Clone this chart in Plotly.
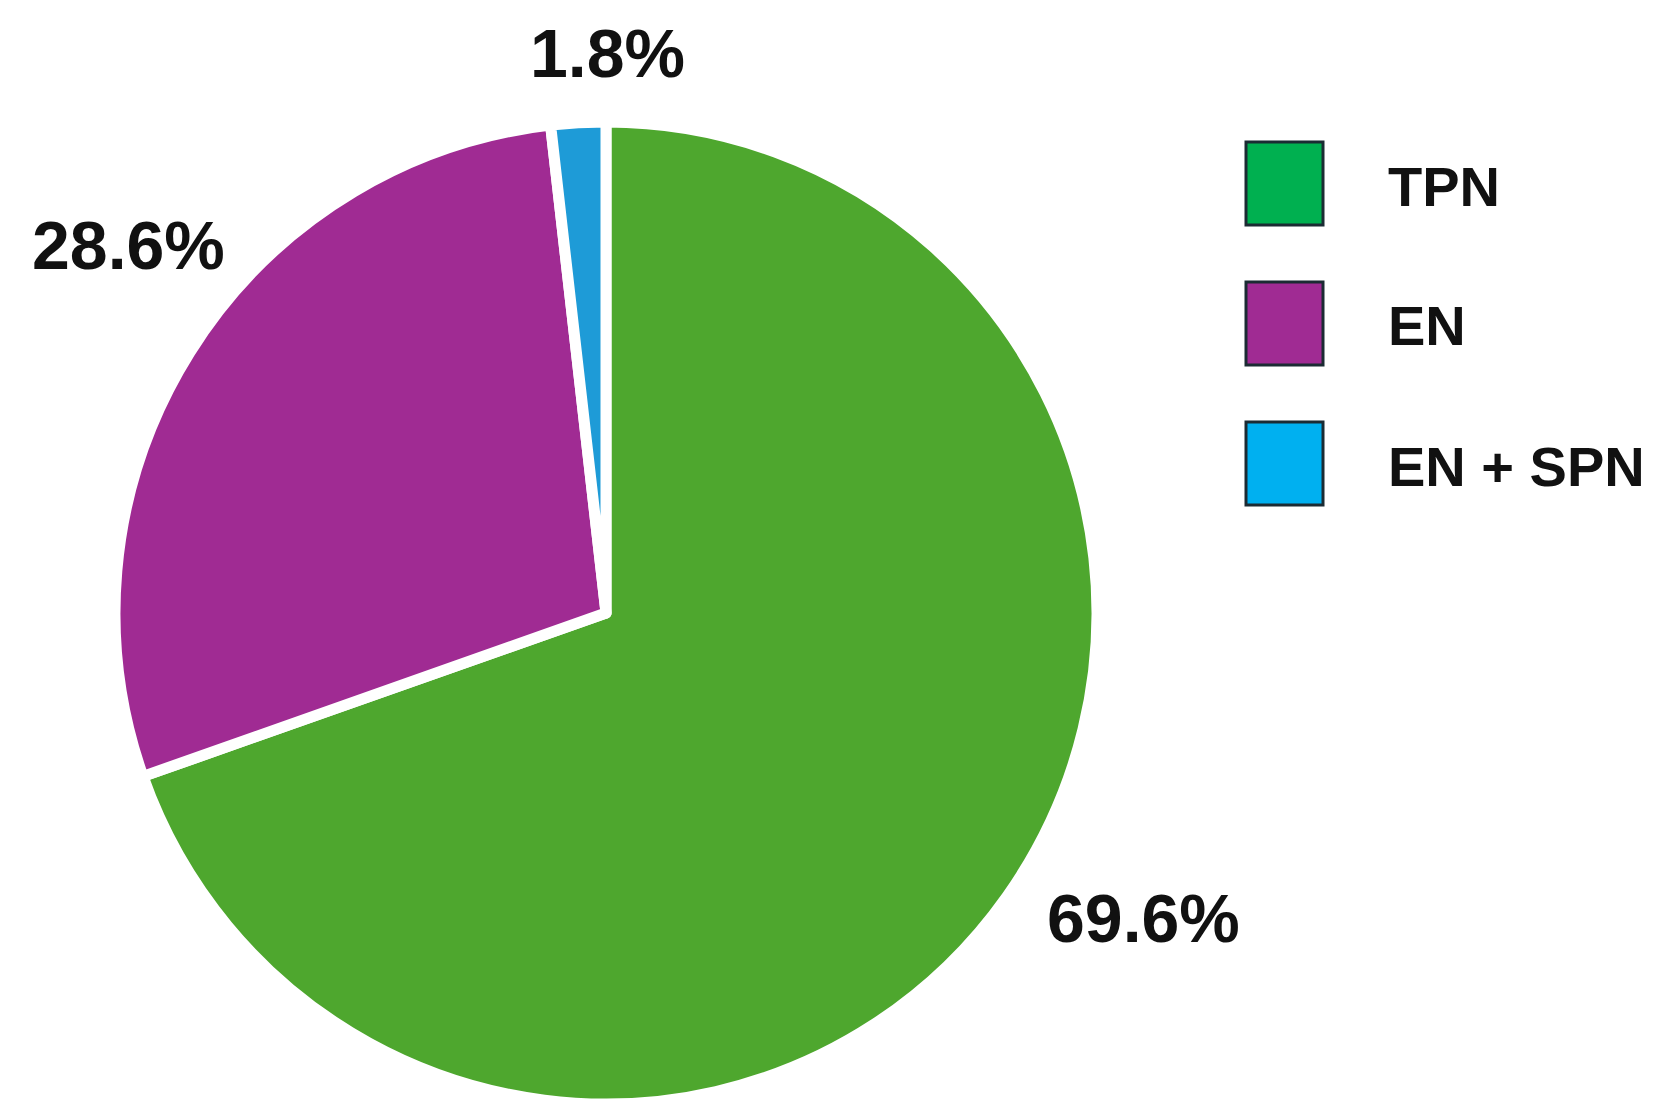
import plotly.graph_objects as go

# Data
labels = ["TPN", "EN", "EN + SPN"]
values = [69.6, 28.6, 1.8]
slice_colors = ["#4EA72E", "#A02B93", "#1E9BD7"]
legend_colors = ["#00B050", "#A02B93", "#00B0F0"]

W, H = 1659, 1119

fig = go.Figure()
fig.add_trace(go.Pie(
    labels=labels,
    values=values,
    sort=False,
    direction="clockwise",
    rotation=0,
    marker=dict(colors=slice_colors, line=dict(color="white", width=11)),
    textinfo="none",
    hoverinfo="label+percent",
    showlegend=False,
    domain=dict(x=[107 / W, 1089 / W], y=[23 / H, 1005 / H]),
))

# percentage labels around the pie (pixel positions of label centres)
label_pos = [(1135, 910), (121, 237), (599, 45)]
for v, (px_, py_) in zip(values, label_pos):
    fig.add_annotation(
        x=px_ / W, y=1 - py_ / H, xref="paper", yref="paper",
        text=f"{v}%", showarrow=False,
        font=dict(family="Liberation Sans, Arial", size=68, color="#111111"),
        xanchor="center", yanchor="middle",
    )

# custom legend: big squares + text
box_top = [134, 274, 414]
for name, col, top in zip(labels, legend_colors, box_top):
    fig.add_shape(
        type="rect", xref="paper", yref="paper",
        x0=1238 / W, x1=1315 / W, y0=1 - top / H, y1=1 - (top + 83) / H,
        fillcolor=col, line=dict(color="#1b2b33", width=3),
    )
    fig.add_annotation(
        x=1378 / W, y=1 - (top + 44) / H, xref="paper", yref="paper",
        text=name, showarrow=False,
        font=dict(family="Liberation Sans, Arial", size=56, color="#111111"),
        xanchor="left", yanchor="middle",
    )

fig.update_layout(
    width=W, height=H,
    margin=dict(l=0, r=0, t=0, b=0),
    paper_bgcolor="white",
    plot_bgcolor="white",
    font=dict(family="Liberation Sans, Arial", weight="bold"),
)
fig.update_annotations(font_weight="bold")

fig.write_html("out.html")
